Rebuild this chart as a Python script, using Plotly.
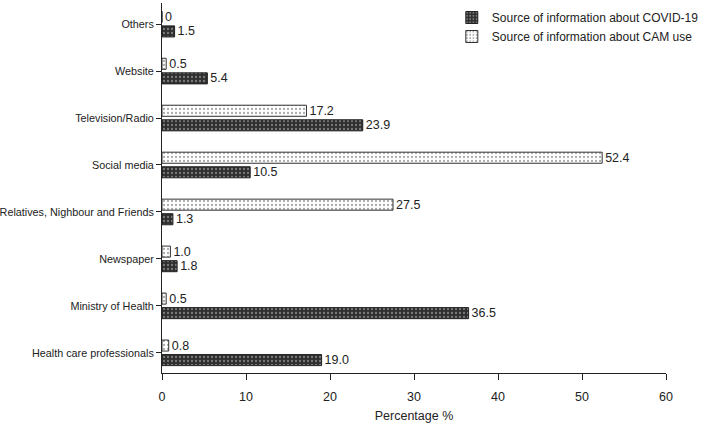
import plotly.graph_objects as go

# categories from bottom to top
sources = [
    "Health care professionals", "Ministry of Health", "Newspaper",
    "Relatives, Nighbour and Friends", "Social media", "Television/Radio",
    "Website", "Others",
]
covid = [19.0, 36.5, 1.8, 1.3, 10.5, 23.9, 5.4, 1.5]
cam = [0.8, 0.5, 1.0, 27.5, 52.4, 17.2, 0.5, 0]

FONT = "Liberation Sans, Arial, sans-serif"


def fmt(v):
    return "0" if v == 0 else f"{v:.1f}"


fig = go.Figure()
fig.add_trace(go.Bar(
    y=sources, x=covid, orientation="h",
    name="Source of information about COVID-19",
    text=[fmt(v) for v in covid],
    marker=dict(
        color="#2f2f2f",
        line=dict(color="#222", width=1),
        pattern=dict(shape=".", bgcolor="#2f2f2f", fgcolor="#c8c8c8", size=4, solidity=0.25),
    ),
))
fig.add_trace(go.Bar(
    y=sources, x=cam, orientation="h",
    name="Source of information about CAM use",
    text=[fmt(v) for v in cam],
    marker=dict(
        color="white",
        line=dict(color="#333", width=1),
        pattern=dict(shape=".", bgcolor="white", fgcolor="#555", size=4, solidity=0.25),
    ),
))

fig.update_traces(
    textposition="outside", cliponaxis=False, constraintext="none",
    textfont=dict(size=12.5, color="#222", family=FONT),
)

fig.update_layout(
    width=712, height=428,
    margin=dict(l=162, r=46, t=3, b=55, autoexpand=False),
    barmode="group", bargap=0.38, bargroupgap=0.24,
    plot_bgcolor="white", paper_bgcolor="white",
    font=dict(family=FONT, size=12, color="#222"),
    legend=dict(
        x=1.075, y=1.0, xanchor="right", yanchor="top",
        bgcolor="rgba(0,0,0,0)", font=dict(size=12),
        itemwidth=30, tracegroupgap=2,
    ),
    xaxis=dict(
        range=[0, 60], dtick=10, showgrid=False, zeroline=False,
        showline=True, linecolor="#222", linewidth=1,
        ticks="outside", ticklen=6, tickcolor="#222",
        tickfont=dict(size=12.5), ticklabelstandoff=6,
        title=dict(text="Percentage %", standoff=8, font=dict(size=12.5)),
        automargin=False,
    ),
    yaxis=dict(
        range=[-0.43, 7.45], showgrid=False, zeroline=False,
        showline=True, linecolor="#222", linewidth=1,
        ticks="outside", ticklen=5, tickcolor="#222",
        tickfont=dict(size=10.8), ticklabelstandoff=0,
        automargin=False,
    ),
)

fig.write_html(
    "out.html",
    config={"displayModeBar": False},
    post_script="document.body.style.margin='0';",
)
